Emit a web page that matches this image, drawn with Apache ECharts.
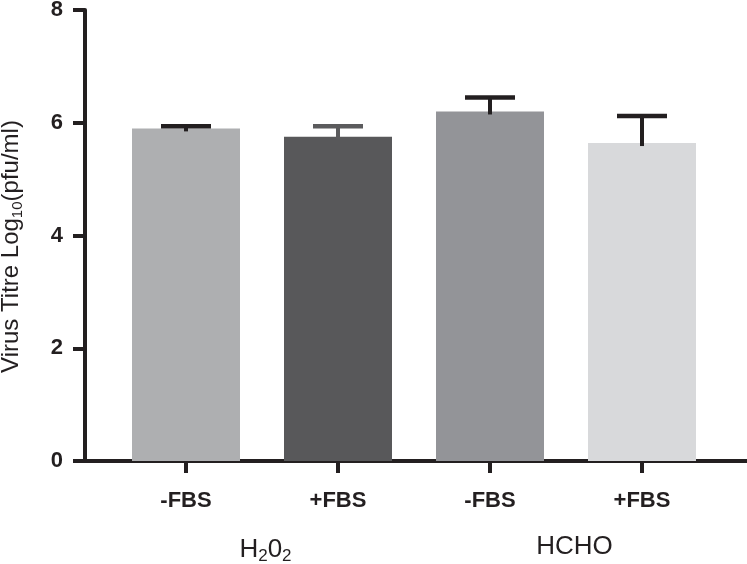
<!DOCTYPE html>
<html>
<head>
<meta charset="utf-8">
<script src="https://cdn.jsdelivr.net/npm/echarts@6/dist/echarts.min.js"></script>
<style>html,body{margin:0;padding:0;background:#fff}#c{width:747px;height:564px}</style>
</head>
<body>
<div id="c"></div>
<script>
// ---- data ----
var categories = ['-FBS', '+FBS', '-FBS', '+FBS'];
var groups = ['H₂0₂', 'HCHO'];
var titreMean = [5.90, 5.75, 6.20, 5.64];
var titreErr = [0.04, 0.19, 0.25, 0.48];
var yTicks = [0, 2, 4, 6, 8];
var barColors = ['#aeafb1', '#58585a', '#939498', '#d8d9db'];
var errColors = ['#231f20', '#5b5b5d', '#231f20', '#231f20'];

var ink = '#231f20';
var FONT = 'Liberation Sans, Arial, sans-serif';

function subRich(s) {
  // convert unicode subscript digits into rich-text subscript segments
  var map = {'₀':'0','₁':'1','₂':'2','₃':'3'};
  var out = '', buf = '', inSub = false;
  for (var i = 0; i < s.length; i++) {
    var ch = s[i];
    var isSub = map.hasOwnProperty(ch);
    if (isSub !== inSub && buf) { out += '{' + (inSub ? 's' : 'n') + '|' + buf + '}'; buf = ''; }
    inSub = isSub;
    buf += isSub ? map[ch] : ch;
  }
  if (buf) out += '{' + (inSub ? 's' : 'n') + '|' + buf + '}';
  return out;
}

var chart = echarts.init(document.getElementById('c'), null, {renderer: 'canvas'});

var errData = titreMean.map(function (v, i) { return [i, v, v + titreErr[i]]; });

var gridBase = {top: 10, bottom: 103, containLabel: false, outerBoundsMode: 'none'};
function mkGrid(l, r) { var g = Object.assign({}, gridBase); g.left = l; g.right = r; return g; }

var option = {
  animation: false,
  backgroundColor: '#fff',
  grid: [
    mkGrid(110, 29),   // bars
    mkGrid(85, 0),     // frame / y axis
    mkGrid(111, 18)    // group labels
  ],
  xAxis: [
    {
      type: 'category', gridIndex: 0, data: categories,
      axisLine: {show: false},
      axisTick: {show: true, alignWithLabel: true, length: 12, lineStyle: {color: ink, width: 4}},
      axisLabel: {margin: 29, color: ink, fontFamily: FONT, fontSize: 22, fontWeight: 'bold'},
      splitLine: {show: false}
    },
    {
      type: 'value', gridIndex: 1, min: 0, max: 1,
      axisLine: {show: true, lineStyle: {color: ink, width: 4}},
      axisTick: {show: false}, axisLabel: {show: false}, splitLine: {show: false}
    },
    {
      type: 'category', gridIndex: 2, data: groups,
      axisLine: {show: false}, axisTick: {show: false}, splitLine: {show: false},
      axisLabel: {
        margin: 73, color: ink,
        formatter: function (v) { return subRich(v); },
        rich: {
          n: {fontFamily: FONT, fontSize: 26, color: ink},
          s: {fontFamily: FONT, fontSize: 17, color: ink, padding: [14, 0, 0, 0]}
        }
      }
    }
  ],
  yAxis: [
    {type: 'value', gridIndex: 0, min: 0, max: 8, show: false},
    {
      type: 'value', gridIndex: 1, min: yTicks[0], max: yTicks[yTicks.length - 1], interval: 2,
      axisLine: {show: true, lineStyle: {color: ink, width: 4}},
      axisTick: {show: true, length: 12, lineStyle: {color: ink, width: 4}},
      axisLabel: {margin: 22, color: ink, fontFamily: FONT, fontSize: 22, fontWeight: 'bold'},
      splitLine: {show: false},
      name: subRich('Virus Titre Log₁₀(pfu/ml)'),
      nameLocation: 'middle', nameGap: 60, nameRotate: 90,
      nameTextStyle: {
        color: ink, padding: [0, 22, 0, 0],
        rich: {
          n: {fontFamily: FONT, fontSize: 24, color: ink},
          s: {fontFamily: FONT, fontSize: 15, color: ink, padding: [12, 0, 0, 0]}
        }
      }
    },
    {type: 'value', gridIndex: 2, min: 0, max: 8, show: false}
  ],
  series: [
    {
      type: 'bar', xAxisIndex: 0, yAxisIndex: 0, barWidth: 108,
      data: titreMean.map(function (v, i) { return {value: v, itemStyle: {color: barColors[i]}}; }),
      z: 2
    },
    {
      type: 'custom', xAxisIndex: 0, yAxisIndex: 0, z: 3,
      data: errData,
      encode: {x: 0, y: [1, 2]},
      renderItem: function (params, api) {
        var i = api.value(0);
        var base = api.coord([i, api.value(1)]);
        var top = api.coord([i, api.value(2)]);
        var half = 25;
        var c = errColors[i];
        return {
          type: 'group',
          children: [
            {type: 'line', shape: {x1: top[0], y1: base[1] + 3, x2: top[0], y2: top[1]},
             style: {stroke: c, lineWidth: 4}},
            {type: 'line', shape: {x1: top[0] - half, y1: top[1], x2: top[0] + half, y2: top[1]},
             style: {stroke: c, lineWidth: 4.5}}
          ]
        };
      }
    }
  ]
};
chart.setOption(option);
</script>
</body>
</html>
